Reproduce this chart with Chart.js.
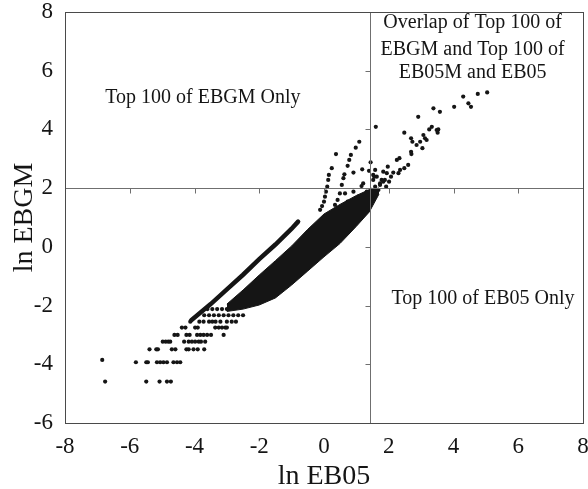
<!DOCTYPE html>
<html>
<head>
<meta charset="utf-8">
<script src="https://cdn.jsdelivr.net/npm/chart.js@4.4.1/dist/chart.umd.min.js"></script>
<style>
  html, body { margin: 0; padding: 0; background: #fff; }
</style>
</head>
<body>
<canvas id="scatterChart" width="588" height="489"></canvas>
<script>
'use strict';

// sparse rows at the lower left, one ln EBGM value per row
const lowRowY = [-4.59, -3.93, -3.49, -3.23, -3.00, -2.75, -2.55, -2.33, -2.12];
const lowRowX = [
  [-6.76, -5.49, -5.08, -4.85, -4.73],
  [-5.81, -5.49, -5.44, -5.16, -5.06, -4.96, -4.85, -4.65, -4.54, -4.44],
  [-5.39, -5.18, -5.13, -4.70, -4.59, -4.25, -4.18, -4.03, -3.90, -3.70],
  [-4.98, -4.89, -4.81, -4.75, -4.32, -4.18, -4.08, -3.98, -3.87, -3.80, -3.67],
  [-4.62, -4.52, -4.25, -4.15, -3.92, -3.82, -3.72, -3.61, -3.49, -3.10],
  [-4.39, -4.28, -3.98, -3.90, -3.36, -3.25, -3.15, -3.05, -3.00],
  [-4.13, -3.85, -3.72, -3.55, -3.45, -3.35, -3.20, -3.00, -2.85, -2.72],
  [-3.70, -3.55, -3.40, -3.25, -3.10, -2.95, -2.80, -2.65, -2.50],
  [-3.60, -3.45, -3.30, -3.15, -3.00]
];
const strayPoints = [[-6.85, -3.85]];

// solid body of the cloud: upper and lower edge at shared ln EB05 values
const bandX     = [-3.0, -2.5, -2.0, -1.5, -1.0, -0.5, 0.0, 0.5, 1.0, 1.4, 1.7];
const bandUpper = [-1.95, -1.47, -0.96, -0.47, 0.03, 0.60, 1.12, 1.45, 1.75, 1.95, 2.0];
const bandLower = [-2.20, -2.12, -1.98, -1.74, -1.30, -0.82, -0.34, 0.12, 0.70, 1.19, 1.8];

// narrow streak above the body
const streakX = [-4.1, -3.5, -3.0, -2.5, -2.0, -1.5, -1.0, -0.8];
const streakY = [-2.5, -1.95, -1.45, -0.95, -0.42, 0.08, 0.62, 0.86];

// two curved tails leaving the body near ln EB05 = 0
const tailA = [[-0.12, 1.26], [-0.06, 1.39], [0.0, 1.54], [0.03, 1.71], [0.06, 1.88],
  [0.10, 2.05], [0.13, 2.28], [0.15, 2.45], [0.24, 2.68], [0.37, 3.16]];
const tailB = [[0.34, 1.43], [0.42, 1.60], [0.49, 1.82], [0.55, 2.11], [0.60, 2.34],
  [0.63, 2.47], [0.73, 2.76], [0.78, 2.96], [0.83, 3.13], [0.98, 3.38], [1.09, 3.58]];

// scattered points near the crossing and in the upper right
const topPoints = [
  [0.91, 2.53], [1.18, 2.64], [1.44, 2.88], [1.60, 4.09], [1.52, 2.45], [1.58, 2.62],
  [1.83, 2.56], [1.39, 2.59], [1.55, 2.39], [1.52, 2.28], [1.97, 2.73], [2.25, 2.96],
  [2.33, 3.02], [2.60, 2.79], [2.48, 2.68], [2.35, 2.62], [2.14, 2.53], [2.07, 2.39],
  [1.94, 2.51], [1.88, 2.28], [1.78, 2.28], [2.01, 2.22], [1.92, 2.05], [2.48, 3.89],
  [2.69, 3.70], [2.73, 3.58], [2.86, 3.47], [2.97, 3.58], [3.07, 3.81], [3.12, 3.70],
  [3.17, 3.64], [3.04, 3.36], [2.69, 3.24], [2.70, 3.16], [3.25, 4.00], [3.33, 4.09],
  [3.48, 3.98], [3.53, 4.00], [3.51, 3.89], [2.91, 4.43], [3.38, 4.72], [3.58, 4.60],
  [4.02, 4.77], [4.30, 5.12], [4.46, 4.89], [4.54, 4.77], [4.75, 5.21], [5.04, 5.26],
  [1.63, 2.39], [2.30, 2.51], [1.21, 2.16], [1.16, 2.07], [0.91, 1.88], [0.65, 1.82],
  [1.73, 2.16], [1.83, 2.22], [1.58, 2.05], [1.68, 1.94], [0.96, 1.60], [1.06, 1.71],
  [1.21, 1.77], [1.32, 1.88], [1.47, 1.94], [1.73, 2.11], [0.73, 1.54], [0.86, 1.52]
];

// where the two cut-off lines cross
const cutX = 1.43;
const cutY = 2;

const serif = 'Liberation Serif';
const ink = '#151515';

const toXY = pairs => pairs.map(p => ({x: p[0], y: p[1]}));

const lowPoints = lowRowY.flatMap((yv, i) => lowRowX[i].map(xv => ({x: xv, y: yv})));

const dotStyle = {
  pointRadius: 2.1,
  pointBackgroundColor: ink,
  pointBorderWidth: 0,
  showLine: false
};

const scatter_data = {
  datasets: [
    {
      type: 'line',
      label: 'body upper',
      data: bandX.map((xv, i) => ({x: xv, y: bandUpper[i]})),
      borderColor: ink,
      borderWidth: 1,
      pointRadius: 0,
      fill: false,
      tension: 0
    },
    {
      type: 'line',
      label: 'body lower',
      data: bandX.map((xv, i) => ({x: xv, y: bandLower[i]})),
      borderColor: ink,
      borderWidth: 1,
      backgroundColor: ink,
      pointRadius: 0,
      fill: '-1',
      tension: 0
    },
    {
      type: 'line',
      label: 'streak',
      data: streakX.map((xv, i) => ({x: xv, y: streakY[i]})),
      borderColor: ink,
      borderWidth: 4.5,
      borderCapStyle: 'round',
      pointRadius: 0,
      fill: false,
      tension: 0
    },
    Object.assign({label: 'low rows', data: lowPoints}, dotStyle),
    Object.assign({label: 'stray', data: toXY(strayPoints)}, dotStyle),
    Object.assign({label: 'tail A', data: toXY(tailA)}, dotStyle),
    Object.assign({label: 'tail B', data: toXY(tailB)}, dotStyle),
    Object.assign({label: 'top', data: toXY(topPoints)}, dotStyle)
  ]
};

// frame, cut-off lines with their tick marks, and the quadrant notes
const quadrantPlugin = {
  id: 'quadrantPlugin',
  afterDraw(chart) {
    const {ctx, chartArea: a, scales: {x, y}} = chart;
    const cx = Math.round(x.getPixelForValue(cutX)) + 0.5;
    const cy = Math.round(y.getPixelForValue(cutY)) + 0.5;
    ctx.save();

    ctx.strokeStyle = '#6f6f6f';
    ctx.lineWidth = 1;
    ctx.beginPath();
    ctx.moveTo(a.left, cy); ctx.lineTo(a.right, cy);
    ctx.moveTo(cx, a.top); ctx.lineTo(cx, a.bottom);
    x.ticks.forEach(t => {
      const px = Math.round(x.getPixelForValue(t.value)) + 0.5;
      ctx.moveTo(px, cy); ctx.lineTo(px, cy + 5);
    });
    y.ticks.forEach(t => {
      const py = Math.round(y.getPixelForValue(t.value)) + 0.5;
      ctx.moveTo(cx, py); ctx.lineTo(cx - 5, py);
    });
    ctx.stroke();

    ctx.strokeStyle = '#4a4a4a';
    ctx.strokeRect(Math.round(a.left) + 0.5, Math.round(a.top) + 0.5,
      Math.round(a.width), Math.round(a.height));

    ctx.fillStyle = ink;
    ctx.font = '20px "' + serif + '"';
    ctx.textAlign = 'center';
    ctx.textBaseline = 'middle';
    const note = (text, xv, yv) => ctx.fillText(text, x.getPixelForValue(xv), y.getPixelForValue(yv));
    note('Top 100 of EBGM Only', -3.74, 5.07);
    note('Top 100 of EB05 Only', 4.91, -1.78);
    note('Overlap of Top 100 of', 4.59, 7.63);
    note('EBGM and Top 100 of', 4.59, 6.71);
    note('EB05M and EB05', 4.59, 5.92);
    ctx.restore();
  }
};

const scatter_config = {
  type: 'scatter',
  data: scatter_data,
  options: {
    responsive: false,
    animation: false,
    devicePixelRatio: 1,
    layout: { padding: { top: 12, right: 5, left: 0, bottom: 0 } },
    plugins: {
      legend: { display: false },
      tooltip: { enabled: false }
    },
    scales: {
      x: {
        type: 'linear',
        min: -8,
        max: 8,
        grid: { display: false, drawTicks: false },
        border: { display: false },
        ticks: { stepSize: 2, padding: 10, color: ink, font: { family: serif, size: 23 } },
        title: {
          display: true,
          text: 'ln EB05',
          color: ink,
          font: { family: serif, size: 28, lineHeight: 0.9 },
          padding: { top: 0, bottom: 0 }
        },
        afterFit: scale => {
          scale.height = 66;
          scale.paddingLeft = 0;
          scale.paddingRight = 0;
        }
      },
      y: {
        type: 'linear',
        min: -6,
        max: 8,
        grid: { display: false, drawTicks: false },
        border: { display: false },
        ticks: { stepSize: 2, padding: 12, color: ink, font: { family: serif, size: 23 } },
        title: {
          display: true,
          text: 'ln EBGM',
          color: ink,
          font: { family: serif, size: 28, lineHeight: 0.9 },
          padding: { top: 12, bottom: 0 }
        },
        afterFit: scale => {
          scale.width = 65;
          scale.paddingTop = 0;
          scale.paddingBottom = 0;
        }
      }
    }
  },
  plugins: [quadrantPlugin]
};

const myScatterChart = new Chart(
  document.getElementById('scatterChart'),
  scatter_config
);
</script>
</body>
</html>
